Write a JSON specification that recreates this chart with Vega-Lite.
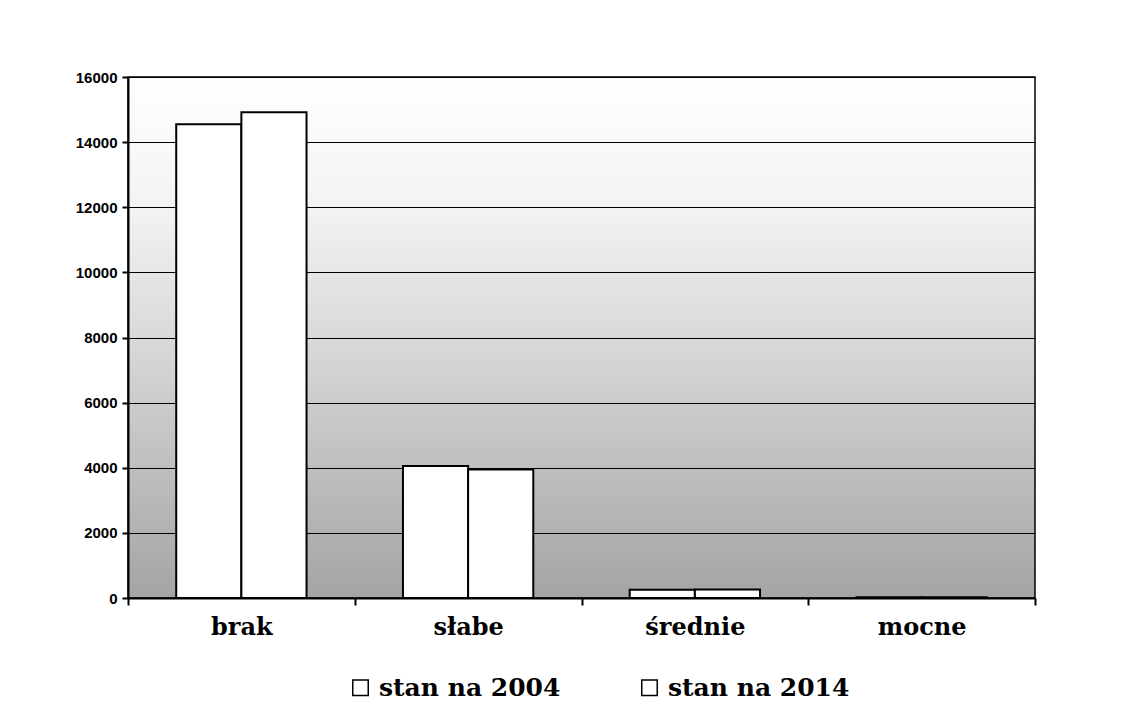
{
  "$schema": "https://vega.github.io/schema/vega-lite/v6.json",
  "width": 907,
  "height": 521,
  "autosize": {"type": "none"},
  "padding": {"left": 128, "top": 77, "right": 106, "bottom": 128},
  "background": "white",
  "data": {"values": [
    {"cat": "brak", "series": "stan na 2004", "value": 14550},
    {"cat": "brak", "series": "stan na 2014", "value": 14920},
    {"cat": "słabe", "series": "stan na 2004", "value": 4050},
    {"cat": "słabe", "series": "stan na 2014", "value": 3950},
    {"cat": "średnie", "series": "stan na 2004", "value": 250},
    {"cat": "średnie", "series": "stan na 2014", "value": 260},
    {"cat": "mocne", "series": "stan na 2004", "value": 20},
    {"cat": "mocne", "series": "stan na 2014", "value": 20}
  ]},
  "mark": {"type": "bar", "stroke": "black", "strokeWidth": 2},
  "encoding": {
    "x": {
      "field": "cat", "type": "nominal",
      "sort": ["brak", "słabe", "średnie", "mocne"],
      "scale": {"paddingInner": 0, "paddingOuter": 0},
      "axis": {
        "title": null, "labelAngle": 0,
        "domainColor": "black", "domainWidth": 2,
        "tickColor": "black", "tickWidth": 2, "tickSize": 7, "tickBand": "extent",
        "labelFont": "DejaVu Serif", "labelFontWeight": "bold", "labelFontSize": 24,
        "labelColor": "black", "labelPadding": 10
      }
    },
    "xOffset": {
      "field": "series", "type": "nominal",
      "scale": {"paddingInner": 0, "paddingOuter": 0.74}
    },
    "y": {
      "field": "value", "type": "quantitative",
      "scale": {"domain": [0, 16000]},
      "axis": {
        "title": null, "values": [0, 2000, 4000, 6000, 8000, 10000, 12000, 14000, 16000],
        "format": "d",
        "domainColor": "black", "domainWidth": 2,
        "tickColor": "black", "tickWidth": 2, "tickSize": 6,
        "labelFont": "Liberation Sans", "labelFontWeight": "bold", "labelFontSize": 15,
        "labelColor": "black", "labelPadding": 5,
        "grid": true, "gridColor": "black", "gridWidth": 1.2
      }
    },
    "color": {
      "field": "series", "type": "nominal",
      "scale": {"range": ["white", "white"]},
      "legend": {
        "title": null, "orient": "none", "direction": "horizontal",
        "legendX": 220, "legendY": 598,
        "symbolType": "square", "symbolSize": 240,
        "symbolStrokeColor": "black", "symbolStrokeWidth": 1.5, "symbolFillColor": "white",
        "labelFont": "DejaVu Serif", "labelFontWeight": "bold", "labelFontSize": 25,
        "labelColor": "black", "labelOffset": 6, "labelLimit": 400, "columnPadding": 76
      }
    }
  },
  "config": {
    "view": {
      "stroke": "black", "strokeWidth": 1.5,
      "fill": {
        "gradient": "linear", "x1": 0, "y1": 0, "x2": 0, "y2": 1,
        "stops": [
          {"offset": 0, "color": "#ffffff"},
          {"offset": 0.25, "color": "#f3f3f3"},
          {"offset": 0.55, "color": "#d4d4d4"},
          {"offset": 1, "color": "#a4a4a4"}
        ]
      }
    }
  }
}
